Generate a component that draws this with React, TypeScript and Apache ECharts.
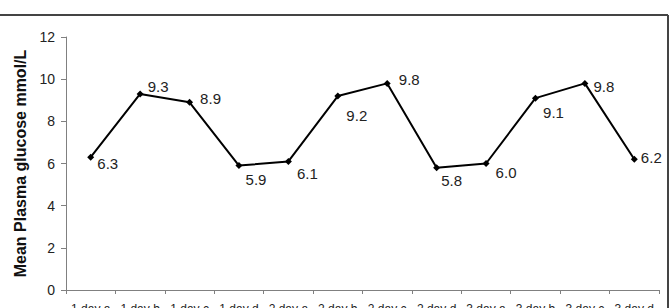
import React, { useEffect, useRef } from "react";
import * as echarts from "echarts";

const categories = [
  "1 day a", "1 day b", "1 day c", "1 day d",
  "2 day a", "2 day b", "2 day c", "2 day d",
  "3 day a", "3 day b", "3 day c", "3 day d",
];
const glucose = [6.3, 9.3, 8.9, 5.9, 6.1, 9.2, 9.8, 5.8, 6.0, 9.1, 9.8, 6.2];
const yTicks = [0, 2, 4, 6, 8, 10, 12];

// label placement offsets (style only)
const labelOffsets: [number, number][] = [
  [17, 6], [18, -7], [21, -4], [17, 14], [19, 12], [19, 19],
  [22, -4], [15, 13], [20, 9], [18, 14], [19, 3], [17, -2],
];

export default function App() {
  const ref = useRef<HTMLDivElement>(null);
  useEffect(() => {
    if (!ref.current) return;
    const chart = echarts.init(ref.current, null, { renderer: "svg" });
    const font = "'Liberation Sans', Arial, sans-serif";
    chart.setOption({
      animation: false,
      backgroundColor: "#ffffff",
      grid: {
        left: 66,
        right: 12,
        top: 37,
        bottom: 18,
        containLabel: false,
        outerBoundsMode: "none",
      },
      xAxis: {
        type: "category",
        data: categories,
        boundaryGap: true,
        axisLine: { lineStyle: { color: "#808080", width: 1 } },
        axisTick: { show: true, inside: false, length: 4, lineStyle: { color: "#808080" } },
        axisLabel: { color: "#222", fontFamily: font, fontSize: 12, margin: 13, interval: 0, hideOverlap: false },
      },
      yAxis: {
        type: "value",
        min: yTicks[0],
        max: yTicks[yTicks.length - 1],
        interval: 2,
        name: "Mean Plasma glucose mmol/L",
        nameLocation: "middle",
        nameGap: 38,
        nameTextStyle: { fontFamily: font, fontSize: 16, fontWeight: "bold", color: "#111" },
        axisLine: { show: true, lineStyle: { color: "#808080", width: 1 } },
        axisTick: { show: true, length: 5, lineStyle: { color: "#808080" } },
        axisLabel: { color: "#222", fontFamily: font, fontSize: 14, margin: 11 },
        splitLine: { show: false },
      },
      series: [
        {
          type: "line",
          data: glucose.map((v, i) => ({
            value: v,
            label: { offset: labelOffsets[i] },
          })),
          symbol: "diamond",
          symbolSize: 7,
          itemStyle: { color: "#000" },
          lineStyle: { color: "#000", width: 2 },
          label: {
            show: true,
            position: "inside",
            align: "center",
            verticalAlign: "middle",
            formatter: (p: any) => Number(p.value).toFixed(1),
            fontFamily: font,
            fontSize: 15,
            color: "#222",
          },
        },
      ],
      graphic: [
        { type: "line", shape: { x1: 0, y1: 15, x2: 668, y2: 15 }, style: { stroke: "#444", lineWidth: 2 } },
        { type: "line", shape: { x1: 668, y1: 15, x2: 668, y2: 308 }, style: { stroke: "#444", lineWidth: 2 } },
      ],
    });
    return () => chart.dispose();
  }, []);
  return (
    <div
      ref={ref}
      style={{ position: "fixed", left: 0, top: 0, width: 671, height: 308 }}
    />
  );
}
